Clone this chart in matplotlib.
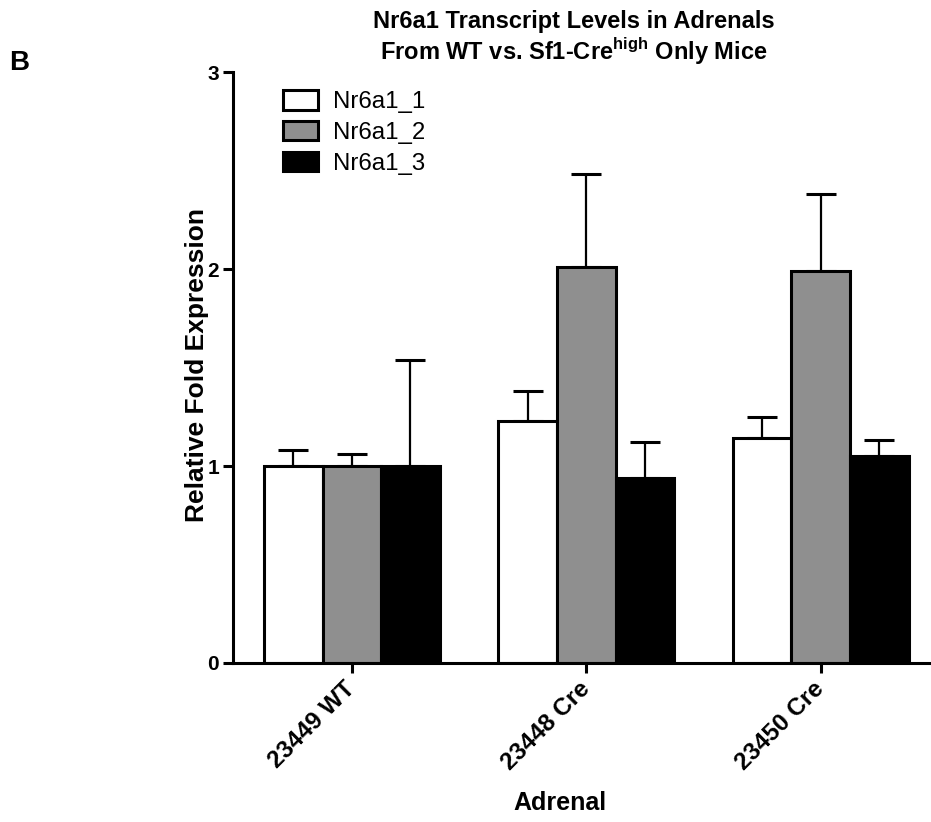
import numpy as np
import matplotlib
matplotlib.use("Agg")
import matplotlib.pyplot as plt
from matplotlib.transforms import ScaledTranslation

# ── fonts ──
plt.rcParams["font.family"] = ["Liberation Sans", "DejaVu Sans"]
plt.rcParams["mathtext.fontset"] = "custom"
plt.rcParams["mathtext.rm"] = "Liberation Sans"
plt.rcParams["mathtext.bf"] = "Liberation Sans:bold"

# ── data ──
groups = ["23449 WT", "23448 Cre", "23450 Cre"]
series = ["Nr6a1_1", "Nr6a1_2", "Nr6a1_3"]

nr6a1_1 = [1.00, 1.23, 1.14]
nr6a1_2 = [1.00, 2.01, 1.99]
nr6a1_3 = [1.00, 0.94, 1.05]

err_1 = [0.08, 0.15, 0.11]
err_2 = [0.06, 0.47, 0.39]
err_3 = [0.54, 0.18, 0.08]

y_ticks = [0, 1, 2, 3]

colors = ["white", "#8f8f8f", "black"]

# ── figure ──
fig = plt.figure(figsize=(9.31, 8.22), dpi=100, facecolor="white")
ax = fig.add_axes([233 / 931, 1 - 663 / 822, 1 - 233 / 931, (663 - 72) / 822])

x = np.arange(len(groups))
width = 0.25
offsets = [-width, 0, width]

handles = []
for vals, errs, off, col in zip([nr6a1_1, nr6a1_2, nr6a1_3],
                                [err_1, err_2, err_3], offsets, colors):
    b = ax.bar(x + off, vals, width=width, color=col, edgecolor="black",
               linewidth=2.2, zorder=2)
    handles.append(b)
    ax.errorbar(x + off, vals, yerr=[np.zeros(len(vals)), errs], fmt="none",
                ecolor="black", elinewidth=1.6, capsize=11, capthick=2.2,
                zorder=1)

ax.set_xlim(-0.507, 2.47)
ax.set_ylim(0, 3)

for s in ["top", "right"]:
    ax.spines[s].set_visible(False)
for s in ["left", "bottom"]:
    ax.spines[s].set_linewidth(2.2)

ax.set_yticks(y_ticks)
ax.set_yticklabels([str(v) for v in y_ticks], fontsize=15, fontweight="bold")
ax.set_xticks(x)
ax.set_xticklabels(groups, fontsize=17.5, fontweight="bold", rotation=45,
                   ha="right", va="top", rotation_mode="anchor")
ax.tick_params(axis="both", width=2.2, length=7, direction="out", pad=3)

# nudge rotated labels so they end at the tick
shift = ScaledTranslation(-8 / 100, 0, fig.dpi_scale_trans)
for lab in ax.get_xticklabels():
    lab.set_transform(lab.get_transform() + shift)

# ── labels ──
fig.text(197 / 931, 1 - 365 / 822, "Relative Fold Expression", rotation=90,
         ha="center", va="center", fontsize=19, fontweight="bold")
fig.text(560 / 931, 1 - 810 / 822, "Adrenal", ha="center", va="baseline",
         fontsize=18, fontweight="bold")
fig.text(19 / 931, 1 - 63 / 822, "B", ha="center", va="center",
         fontsize=20, fontweight="bold")

fig.text(574 / 931, 1 - 28 / 822, "Nr6a1 Transcript Levels in Adrenals",
         ha="center", va="baseline", fontsize=17, fontweight="bold")
fig.text(574 / 931, 1 - 60 / 822,
         r"From WT vs. Sf1-Cre$^{\mathbf{high}}$ Only Mice",
         ha="center", va="baseline", fontsize=17, fontweight="bold")

# ── legend ──
ax.legend(handles, series, loc="upper left",
          bbox_to_anchor=(283 / 931, 1 - 90 / 822),
          bbox_transform=fig.transFigure, frameon=False, fontsize=17.3,
          handlelength=1.46, handleheight=0.875, handletextpad=0.62,
          labelspacing=0.32, borderpad=0, borderaxespad=0)

fig.savefig("out.png", dpi=100, facecolor="white")
